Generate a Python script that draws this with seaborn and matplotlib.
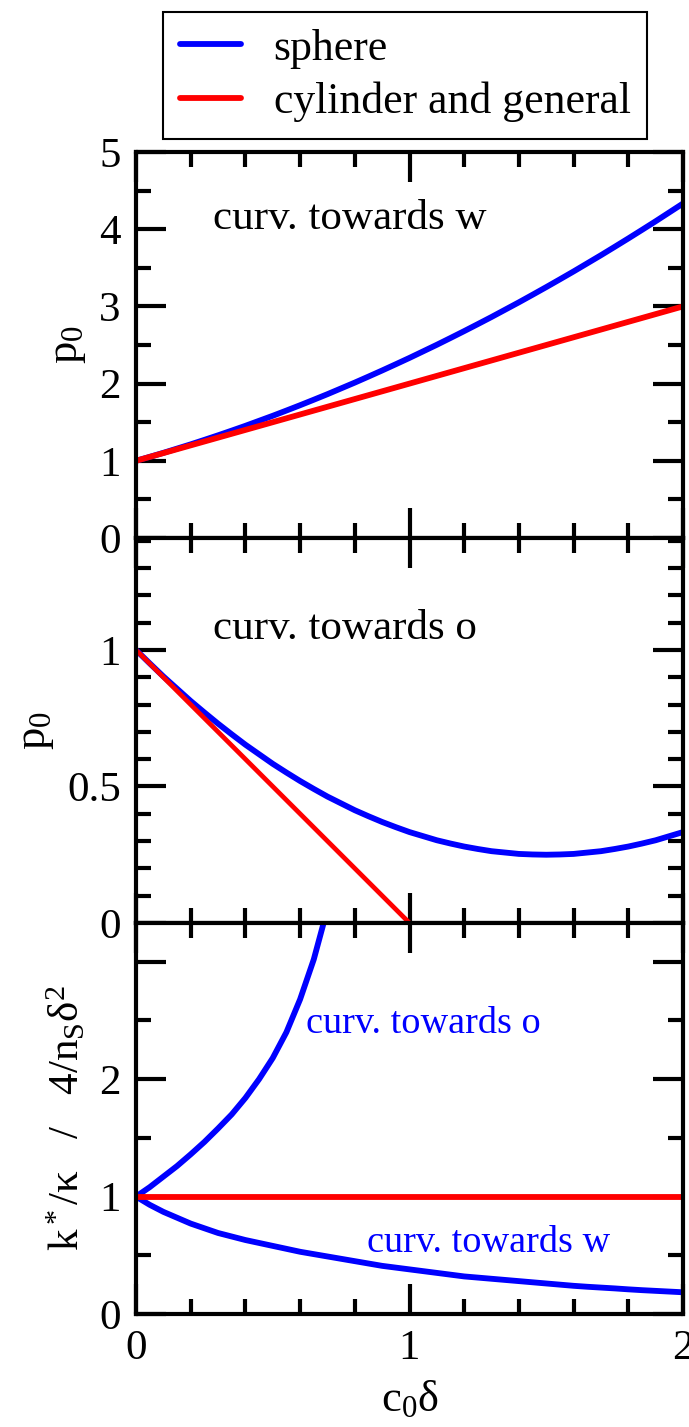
import numpy as np
import pandas as pd
import matplotlib
matplotlib.use("Agg")
import matplotlib.pyplot as plt
import seaborn as sns
from matplotlib.ticker import MultipleLocator, FixedLocator

sns.set_style("ticks")
plt.rcParams['font.family'] = ['Liberation Serif', 'DejaVu Serif']
plt.rcParams['mathtext.fontset'] = 'custom'
plt.rcParams['mathtext.rm'] = 'Liberation Serif'
plt.rcParams['mathtext.it'] = 'Liberation Serif:italic'
plt.rcParams['text.color'] = 'black'
plt.rcParams['axes.labelcolor'] = 'black'
plt.rcParams['xtick.color'] = 'black'
plt.rcParams['ytick.color'] = 'black'

# ---- data ----
x_grid = [0.00, 0.05, 0.10, 0.15, 0.20, 0.25, 0.30, 0.35, 0.40, 0.45,
          0.50, 0.55, 0.60, 0.65, 0.70, 0.75, 0.80, 0.85, 0.90, 0.95,
          1.00, 1.05, 1.10, 1.15, 1.20, 1.25, 1.30, 1.35, 1.40, 1.45,
          1.50, 1.55, 1.60, 1.65, 1.70, 1.75, 1.80, 1.85, 1.90, 1.95, 2.00]

# panel 1: curvature towards w
p0_w_sphere = [1.000, 1.051, 1.103, 1.158, 1.213, 1.271, 1.330, 1.391, 1.453, 1.518,
               1.583, 1.651, 1.720, 1.791, 1.863, 1.938, 2.013, 2.091, 2.170, 2.251,
               2.333, 2.418, 2.503, 2.591, 2.680, 2.771, 2.863, 2.958, 3.053, 3.151,
               3.250, 3.351, 3.453, 3.558, 3.663, 3.771, 3.880, 3.991, 4.103, 4.218, 4.333]
x_cyl_w = [0.0, 1.0, 2.0]
p0_w_cyl = [1.0, 2.0, 3.0]

# panel 2: curvature towards o
p0_o_sphere = [1.000, 0.951, 0.903, 0.858, 0.813, 0.771, 0.730, 0.691, 0.653, 0.618,
               0.583, 0.551, 0.520, 0.491, 0.463, 0.438, 0.413, 0.391, 0.370, 0.351,
               0.333, 0.318, 0.303, 0.291, 0.280, 0.271, 0.263, 0.258, 0.253, 0.251,
               0.250, 0.251, 0.253, 0.258, 0.263, 0.271, 0.280, 0.291, 0.303, 0.318, 0.333]
x_cyl_o = [0.0, 0.5, 1.0]
p0_o_cyl = [1.0, 0.5, 0.0]

# panel 3: bending rigidity ratio
x_k_o = [0.00, 0.05, 0.10, 0.15, 0.20, 0.25, 0.30, 0.35, 0.40, 0.45,
         0.50, 0.55, 0.60, 0.65, 0.70]
k_o_sphere = [1.00, 1.08, 1.17, 1.26, 1.36, 1.465, 1.58, 1.70, 1.84, 2.00,
              2.18, 2.40, 2.68, 3.02, 3.45]
k_w_sphere = [1.00, 0.93, 0.87, 0.82, 0.77, 0.73, 0.69, 0.66, 0.63, 0.605,
              0.58, 0.555, 0.53, 0.51, 0.49, 0.47, 0.45, 0.43, 0.41, 0.395,
              0.38, 0.365, 0.35, 0.335, 0.32, 0.31, 0.30, 0.29, 0.28, 0.27,
              0.26, 0.25, 0.24, 0.232, 0.225, 0.218, 0.21, 0.203, 0.197, 0.191, 0.185]
x_k_cyl = [0.0, 2.0]
k_cyl = [1.0, 1.0]

BLUE = '#0000ff'
RED = '#ff0000'
LW = 4.2
FS = 31

fig = plt.figure(figsize=(6.89, 14.27), dpi=100)
left, width = 136 / 689, (683 - 136) / 689
H = 1427
ax1 = fig.add_axes([left, 1 - 538 / H, width, 386 / H])
ax2 = fig.add_axes([left, 1 - 923 / H, width, 385 / H])
ax3 = fig.add_axes([left, 1 - 1314 / H, width, 391 / H])

# top panel
sns.lineplot(x=x_grid, y=p0_w_sphere, ax=ax1, color=BLUE, lw=LW, label='sphere')
sns.lineplot(x=x_cyl_w, y=p0_w_cyl, ax=ax1, color=RED, lw=LW, label='cylinder and general')
ax1.set_ylim(0, 5)
ax1.yaxis.set_major_locator(MultipleLocator(1))
ax1.yaxis.set_minor_locator(MultipleLocator(0.5))
ax1.text(0.28, 4.0, 'curv. towards w', fontsize=FS, color='black')
ax1.set_ylabel('p$_0$', fontsize=FS + 1, labelpad=8)

# middle panel
sns.lineplot(x=x_grid, y=p0_o_sphere, ax=ax2, color=BLUE, lw=LW)
sns.lineplot(x=x_cyl_o, y=p0_o_cyl, ax=ax2, color=RED, lw=3.4)
ax2.set_ylim(0, 1.41)
ax2.yaxis.set_major_locator(FixedLocator([0, 0.5, 1]))
ax2.yaxis.set_minor_locator(MultipleLocator(0.1))
ax2.set_yticklabels(['0', '0.5', '1'])
ax2.text(0.28, 1.04, 'curv. towards o', fontsize=FS, color='black')
ax2.set_ylabel('p$_0$', fontsize=FS + 1, labelpad=8)

# bottom panel
sns.lineplot(x=x_k_o, y=k_o_sphere, ax=ax3, color=BLUE, lw=LW)
sns.lineplot(x=x_grid, y=k_w_sphere, ax=ax3, color=BLUE, lw=LW)
sns.lineplot(x=x_k_cyl, y=k_cyl, ax=ax3, color=RED, lw=LW)
ax3.set_ylim(0, 3.33)
ax3.yaxis.set_major_locator(FixedLocator([0, 1, 2, 3]))
ax3.yaxis.set_minor_locator(MultipleLocator(0.5))
ax3.set_yticklabels(['0', '1', '2', ''])
ax3.text(0.62, 2.39, 'curv. towards o', fontsize=27.5, color=BLUE)
ax3.text(0.845, 0.53, 'curv. towards w', fontsize=27.5, color=BLUE)
ax3.set_ylabel('k$^*$/κ   /   4/n$_\\mathrm{S}$δ$^2$', fontsize=FS, labelpad=8)
ax3.set_xlabel('c$_0$δ', fontsize=FS + 1, labelpad=8)

for ax in (ax1, ax2, ax3):
    ax.set_xlim(0, 2)
    ax.xaxis.set_major_locator(FixedLocator([0, 1, 2]))
    ax.xaxis.set_minor_locator(MultipleLocator(0.2))
    ax.tick_params(which='both', direction='in', top=True, right=True,
                   width=3.0, labelsize=FS, pad=11, color='black', labelcolor='black')
    ax.tick_params(which='major', length=21.5)
    ax.tick_params(which='minor', length=10.8)
    for s in ax.spines.values():
        s.set_linewidth(3.0)
        s.set_color('black')
    leg = ax.get_legend()
    if leg is not None:
        leg.remove()
    if ax is not ax3:
        ax.tick_params(labelbottom=False)
        ax.set_xlabel('')

ax3.set_xticklabels(['0', '1', '2'])

handles, labels = ax1.get_legend_handles_labels()
lg = fig.legend(handles, labels, loc='upper left',
                bbox_to_anchor=(163 / 689, 1 - 12 / H), bbox_transform=fig.transFigure,
                fontsize=31.5, frameon=True, fancybox=False, framealpha=1,
                edgecolor='black', borderaxespad=0, borderpad=0.38,
                handlelength=1.4, handletextpad=0.75, labelspacing=0.3)
lg.get_frame().set_linewidth(1.5)
for t in lg.get_texts():
    t.set_color('black')

fig.savefig('out.png', dpi=100)
